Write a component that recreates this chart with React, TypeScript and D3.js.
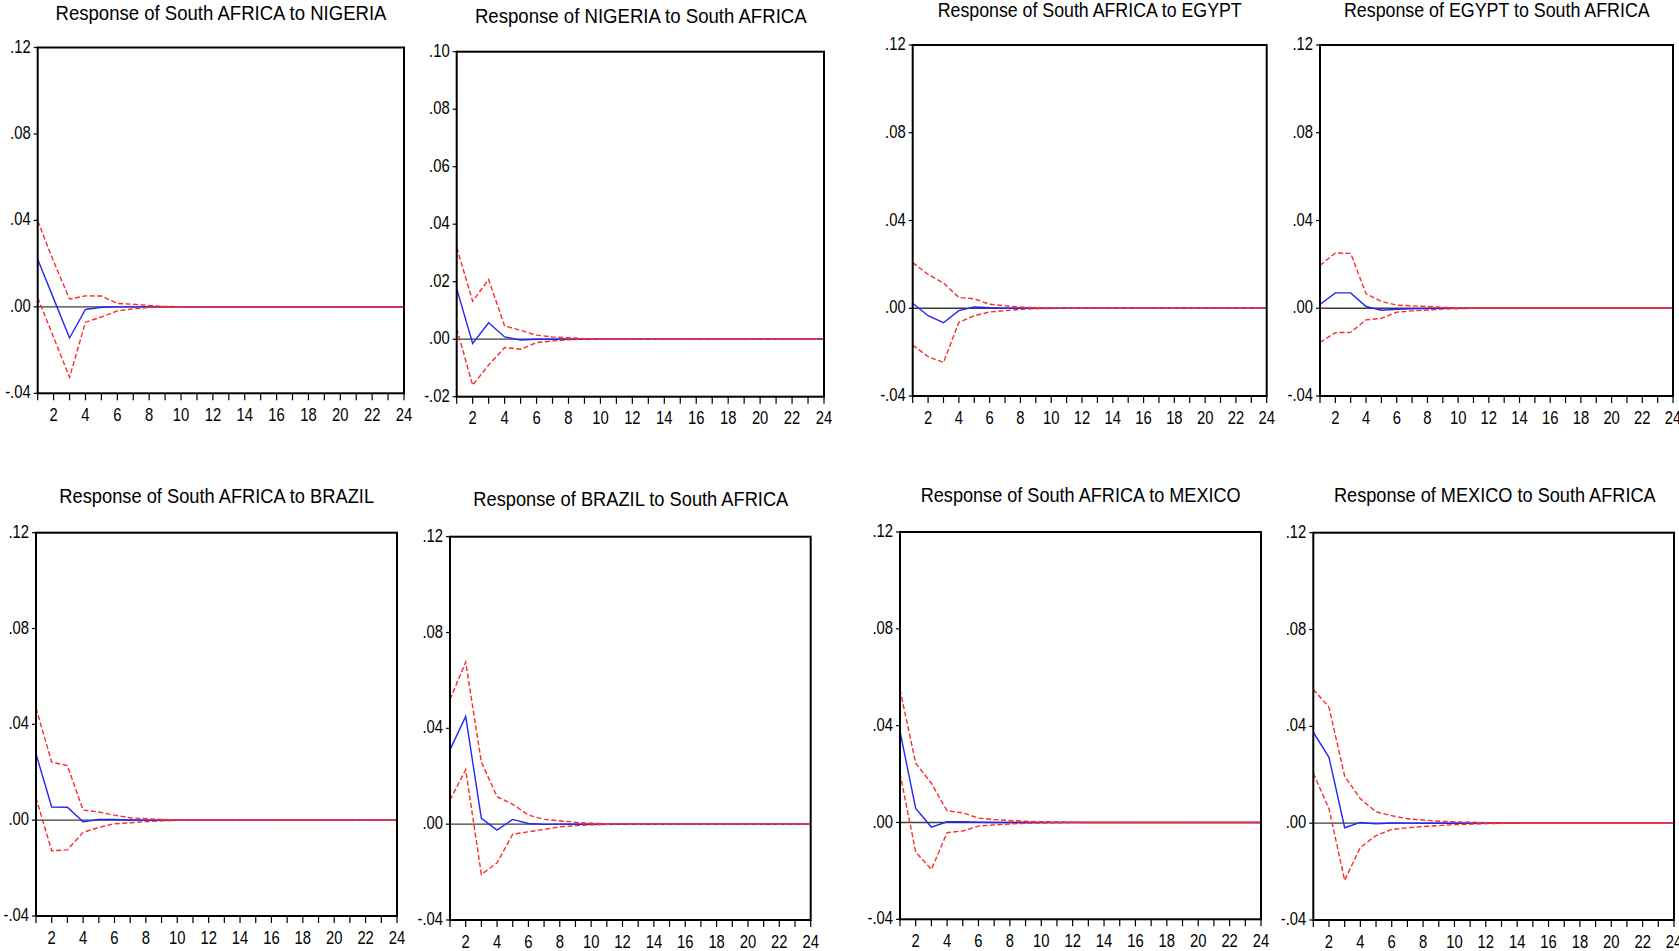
import React from "react";
import * as d3 from "d3";

// Impulse-response horizon (periods 1..24)
const PERIODS: number[] = [1, 2, 3, 4, 5, 6, 7, 8, 9, 10, 11, 12, 13, 14, 15, 16, 17, 18, 19, 20, 21, 22, 23, 24];
const X_TICK_LABELS: number[] = [2, 4, 6, 8, 10, 12, 14, 16, 18, 20, 22, 24];

const TITLES: string[] = [
  "Response of South AFRICA to NIGERIA",
  "Response of NIGERIA to South AFRICA",
  "Response of South AFRICA to EGYPT",
  "Response of EGYPT to South AFRICA",
  "Response of South AFRICA to BRAZIL",
  "Response of BRAZIL to South AFRICA",
  "Response of South AFRICA to MEXICO",
  "Response of MEXICO to South AFRICA",
];

// Y-axis ranges and ticks per panel
const Y_DOMAINS: [number, number][] = [
  [-0.04, 0.12], [-0.02, 0.10], [-0.04, 0.12], [-0.04, 0.12],
  [-0.04, 0.12], [-0.04, 0.12], [-0.04, 0.12], [-0.04, 0.12],
];
const TICKS_WIDE: number[] = [-0.04, 0.0, 0.04, 0.08, 0.12];
const TICKS_NARROW: number[] = [-0.02, 0.0, 0.02, 0.04, 0.06, 0.08, 0.10];
const Y_TICKS: number[][] = [TICKS_WIDE, TICKS_NARROW, TICKS_WIDE, TICKS_WIDE, TICKS_WIDE, TICKS_WIDE, TICKS_WIDE, TICKS_WIDE];

// Point responses
const RESP_SA_NIG = [0.0220, 0.0038, -0.0144, -0.0012, -0.0002, 0, 0, 0, 0, 0, 0, 0, 0, 0, 0, 0, 0, 0, 0, 0, 0, 0, 0, 0];
const RESP_NIG_SA = [0.0176, -0.0015, 0.0057, 0.0008, -0.0003, 0, 0, 0, 0, 0, 0, 0, 0, 0, 0, 0, 0, 0, 0, 0, 0, 0, 0, 0];
const RESP_SA_EGY = [0.0023, -0.0034, -0.0066, -0.0011, 0.0006, 0.0002, 0, 0, 0, 0, 0, 0, 0, 0, 0, 0, 0, 0, 0, 0, 0, 0, 0, 0];
const RESP_EGY_SA = [0.0017, 0.0070, 0.0070, 0.0008, -0.0009, -0.0005, -0.0003, -0.0001, 0, 0, 0, 0, 0, 0, 0, 0, 0, 0, 0, 0, 0, 0, 0, 0];
const RESP_SA_BRA = [0.0277, 0.0055, 0.0054, -0.0007, 0.0003, 0.0003, 0.0001, 0, 0, 0, 0, 0, 0, 0, 0, 0, 0, 0, 0, 0, 0, 0, 0, 0];
const RESP_BRA_SA = [0.0310, 0.0450, 0.0024, -0.0025, 0.0020, 0.0003, -0.0001, 0, 0, 0, 0, 0, 0, 0, 0, 0, 0, 0, 0, 0, 0, 0, 0, 0];
const RESP_SA_MEX = [0.0376, 0.0058, -0.0019, 0.0003, 0.0003, 0.0001, 0, 0, 0, 0, 0, 0, 0, 0, 0, 0, 0, 0, 0, 0, 0, 0, 0, 0];
const RESP_MEX_SA = [0.0376, 0.0272, -0.0019, 0.0003, -0.0003, 0.0001, 0, 0, 0, 0, 0, 0, 0, 0, 0, 0, 0, 0, 0, 0, 0, 0, 0, 0];

// Upper confidence bands (+2 S.E.)
const UP_SA_NIG = [0.0398, 0.0210, 0.0036, 0.0051, 0.0050, 0.0016, 0.0012, 0.0006, 0.0002, 0, 0, 0, 0, 0, 0, 0, 0, 0, 0, 0, 0, 0, 0, 0];
const UP_NIG_SA = [0.0319, 0.0132, 0.0208, 0.0046, 0.0031, 0.0014, 0.0008, 0.0005, 0.0002, 0, 0, 0, 0, 0, 0, 0, 0, 0, 0, 0, 0, 0, 0, 0];
const UP_SA_EGY = [0.0208, 0.0154, 0.0115, 0.0049, 0.0043, 0.0018, 0.0011, 0.0005, 0.0003, 0.0001, 0, 0, 0, 0, 0, 0, 0, 0, 0, 0, 0, 0, 0, 0];
const UP_EGY_SA = [0.0195, 0.0252, 0.0250, 0.0066, 0.0031, 0.0014, 0.0011, 0.0008, 0.0004, 0.0002, 0, 0, 0, 0, 0, 0, 0, 0, 0, 0, 0, 0, 0, 0];
const UP_SA_BRA = [0.0468, 0.0242, 0.0228, 0.0042, 0.0034, 0.0021, 0.0010, 0.0006, 0.0003, 0.0001, 0, 0, 0, 0, 0, 0, 0, 0, 0, 0, 0, 0, 0, 0];
const UP_BRA_SA = [0.0520, 0.0677, 0.0259, 0.0115, 0.0083, 0.0038, 0.0020, 0.0014, 0.0008, 0.0004, 0.0002, 0.0001, 0, 0, 0, 0, 0, 0, 0, 0, 0, 0, 0, 0];
const UP_SA_MEX = [0.0549, 0.0245, 0.0162, 0.0048, 0.0040, 0.0018, 0.0012, 0.0008, 0.0005, 0.0003, 0.0002, 0.0001, 0, 0, 0, 0, 0, 0, 0, 0, 0, 0, 0, 0];
const UP_MEX_SA = [0.0553, 0.0479, 0.0194, 0.0101, 0.0047, 0.0031, 0.0018, 0.0013, 0.0008, 0.0006, 0.0004, 0.0002, 0.0001, 0, 0, 0, 0, 0, 0, 0, 0, 0, 0, 0];

// Lower confidence bands (-2 S.E.)
const LO_SA_NIG = [0.0042, -0.0141, -0.0326, -0.0071, -0.0047, -0.0019, -0.0009, -0.0003, -0.0001, 0, 0, 0, 0, 0, 0, 0, 0, 0, 0, 0, 0, 0, 0, 0];
const LO_NIG_SA = [0.0037, -0.0160, -0.0090, -0.0029, -0.0035, -0.0012, -0.0006, -0.0002, 0, 0, 0, 0, 0, 0, 0, 0, 0, 0, 0, 0, 0, 0, 0, 0];
const LO_SA_EGY = [-0.0168, -0.0221, -0.0247, -0.0064, -0.0034, -0.0017, -0.0011, -0.0005, -0.0002, -0.0001, 0, 0, 0, 0, 0, 0, 0, 0, 0, 0, 0, 0, 0, 0];
const LO_EGY_SA = [-0.0156, -0.0111, -0.0110, -0.0053, -0.0046, -0.0018, -0.0012, -0.0008, -0.0004, -0.0002, 0, 0, 0, 0, 0, 0, 0, 0, 0, 0, 0, 0, 0, 0];
const LO_SA_BRA = [0.0094, -0.0128, -0.0124, -0.0051, -0.0030, -0.0015, -0.0011, -0.0006, -0.0003, -0.0001, 0, 0, 0, 0, 0, 0, 0, 0, 0, 0, 0, 0, 0, 0];
const LO_BRA_SA = [0.0101, 0.0227, -0.0210, -0.0162, -0.0042, -0.0032, -0.0022, -0.0011, -0.0006, -0.0003, -0.0001, 0, 0, 0, 0, 0, 0, 0, 0, 0, 0, 0, 0, 0];
const LO_SA_MEX = [0.0203, -0.0122, -0.0194, -0.0042, -0.0035, -0.0015, -0.0010, -0.0006, -0.0003, -0.0002, -0.0001, 0, 0, 0, 0, 0, 0, 0, 0, 0, 0, 0, 0, 0];
const LO_MEX_SA = [0.0206, 0.0060, -0.0236, -0.0100, -0.0051, -0.0026, -0.0019, -0.0014, -0.0010, -0.0006, -0.0004, -0.0002, -0.0001, 0, 0, 0, 0, 0, 0, 0, 0, 0, 0, 0];

const RESPONSES = [RESP_SA_NIG, RESP_NIG_SA, RESP_SA_EGY, RESP_EGY_SA, RESP_SA_BRA, RESP_BRA_SA, RESP_SA_MEX, RESP_MEX_SA];
const UPPERS = [UP_SA_NIG, UP_NIG_SA, UP_SA_EGY, UP_EGY_SA, UP_SA_BRA, UP_BRA_SA, UP_SA_MEX, UP_MEX_SA];
const LOWERS = [LO_SA_NIG, LO_NIG_SA, LO_SA_EGY, LO_EGY_SA, LO_SA_BRA, LO_BRA_SA, LO_SA_MEX, LO_MEX_SA];

// Frame placement of each panel and its title (pixels)
const FRAMES = [
  { left: 37.7, right: 404, top: 47.5, bottom: 393.3, tx: 221, ty: 20, tw: 331 },
  { left: 456.7, right: 824, top: 51.7, bottom: 396.7, tx: 640.8, ty: 23.3, tw: 331.7 },
  { left: 912.7, right: 1266.7, top: 45, bottom: 396, tx: 1089.7, ty: 17.3, tw: 304 },
  { left: 1320, right: 1673, top: 45, bottom: 396, tx: 1496.8, ty: 17.3, tw: 305.7 },
  { left: 36, right: 397, top: 532.7, bottom: 916, tx: 216.7, ty: 503.3, tw: 314.7 },
  { left: 450, right: 810.7, top: 536.7, bottom: 920, tx: 630.8, ty: 506, tw: 315 },
  { left: 900, right: 1261, top: 532, bottom: 919.3, tx: 1080.7, ty: 501.7, tw: 320 },
  { left: 1313.3, right: 1674, top: 532.7, bottom: 920, tx: 1494.8, ty: 502.3, tw: 321.7 },
];

const FONT = "'Liberation Sans', Arial, sans-serif";
const RED = "#ff2a2a";
const BLUE = "#2424ff";

const fmtTick = (v: number) => {
  if (Math.abs(v) < 1e-9) return ".00";
  const s = Math.abs(v).toFixed(2).replace(/^0/, "");
  return (v < 0 ? "-" : "") + s;
};

function Panel({ i }: { i: number }) {
  const f = FRAMES[i];
  const x = d3.scaleLinear().domain([1, 24]).range([f.left, f.right]);
  const y = d3.scaleLinear().domain(Y_DOMAINS[i]).range([f.bottom, f.top]);
  const line = d3
    .line<number>()
    .x((_, k) => x(PERIODS[k]))
    .y((d) => y(d));

  return (
    <g>
      {/* zero reference */}
      <line x1={f.left} x2={f.right} y1={y(0)} y2={y(0)} stroke="#3c3c3c" strokeWidth={1.3} />
      {/* response */}
      <path d={line(RESPONSES[i]) || ""} fill="none" stroke={BLUE} strokeWidth={1.4} />
      {/* bands */}
      <path d={line(UPPERS[i]) || ""} fill="none" stroke={RED} strokeWidth={1.4} strokeDasharray="5,2.5" />
      <path d={line(LOWERS[i]) || ""} fill="none" stroke={RED} strokeWidth={1.4} strokeDasharray="5,2.5" />
      {/* frame */}
      <rect
        x={f.left}
        y={f.top}
        width={f.right - f.left}
        height={f.bottom - f.top}
        fill="none"
        stroke="#000"
        strokeWidth={2}
      />
      {/* y axis ticks */}
      {Y_TICKS[i].map((t) => (
        <g key={"y" + t}>
          <line x1={f.left - 4} x2={f.left} y1={y(t)} y2={y(t)} stroke="#000" strokeWidth={1.2} />
          <text
            transform={`translate(${f.left - 7},${y(t) - 1}) scale(0.8,1)`}
            textAnchor="end"
            dominantBaseline="central"
            fontFamily={FONT}
            fontSize={18.5}
            fill="#000"
          >
            {fmtTick(t)}
          </text>
        </g>
      ))}
      {/* x axis ticks */}
      {PERIODS.map((p) => (
        <line key={"xt" + p} x1={x(p)} x2={x(p)} y1={f.bottom} y2={f.bottom + 7} stroke="#000" strokeWidth={1.2} />
      ))}
      {X_TICK_LABELS.map((p) => (
        <text
          key={"xl" + p}
          transform={`translate(${x(p)},${f.bottom + 27.5}) scale(0.8,1)`}
          textAnchor="middle"
          fontFamily={FONT}
          fontSize={18.5}
          fill="#000"
        >
          {p}
        </text>
      ))}
      {/* title */}
      <text
        x={f.tx}
        y={f.ty}
        textAnchor="middle"
        fontFamily={FONT}
        fontSize={21}
        fill="#000"
        textLength={f.tw}
        lengthAdjust="spacingAndGlyphs"
      >
        {TITLES[i]}
      </text>
    </g>
  );
}

export default function App() {
  return (
    <svg
      width={1679}
      height={951}
      style={{ position: "absolute", left: 0, top: 0, background: "#fff" }}
    >
      <rect x={0} y={0} width={1679} height={951} fill="#fff" />
      {TITLES.map((_, i) => (
        <Panel key={i} i={i} />
      ))}
    </svg>
  );
}
